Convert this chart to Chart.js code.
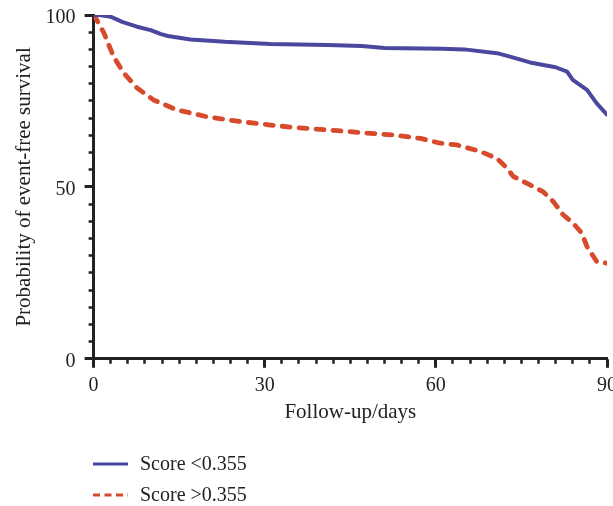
<!DOCTYPE html>
<html><head><meta charset="utf-8">
<script src="https://cdn.jsdelivr.net/npm/chart.js@4/dist/chart.umd.min.js"></script>
<style>
html,body{margin:0;padding:0;overflow:hidden;background:#fff;width:613px;height:506px;}
#wrap{position:absolute;left:0;top:0;width:630px;height:506px;}
#legend{position:absolute;left:93px;top:448px;font-family:"Liberation Serif",serif;font-size:20px;color:#222;}
.item{display:flex;align-items:center;height:31px;white-space:nowrap;}
.item svg{margin-right:12px;display:block;}
</style></head><body>
<div id="wrap"><canvas id="c" width="630" height="506"></canvas></div>
<div id="legend"></div>
<script>
// ---- data ----
const seriesNames = ['Score <0.355', 'Score >0.355'];
const daysLow = [0, 1, 3, 5, 7.6, 10, 11.7, 13, 17, 23, 31, 41, 47, 51, 61, 65, 70.7, 73, 76.5, 81, 83, 84, 86.5, 88.2, 90];
const survLow = [100, 100, 99.5, 98, 96.6, 95.6, 94.5, 93.9, 92.9, 92.2, 91.6, 91.3, 91, 90.4, 90.2, 90, 88.9, 87.9, 86.2, 84.8, 83.5, 81.1, 78.2, 74.3, 71];
const daysHigh = [0, 0.4, 1.8, 3.5, 5.3, 7.6, 10.5, 14.6, 19.9, 25.7, 31, 35, 40.9, 46.8, 52.5, 57.3, 60.8, 63.7, 67.8, 70.7, 72.5, 73.6, 76, 78.8, 80.6, 82.3, 84.1, 85.6, 86.5, 88.2, 90];
const survHigh = [100, 99, 94.8, 87.9, 83.1, 78.8, 75.3, 72.4, 70.4, 69, 68, 67.3, 66.6, 65.8, 65.1, 64.1, 62.7, 62.2, 60.3, 58.3, 55.4, 53, 51, 48.6, 45.7, 41.9, 39.4, 36.5, 32.6, 28.3, 27.8];
const xTickLabels = [0, 30, 60, 90];
const yTickLabels = [0, 50, 100];
const xMinorStep = 3;
const yMinorStep = 5;
const xTitle = 'Follow-up/days';
const yTitle = 'Probability of event-free survival';

const toPts = (xs, ys) => xs.map((x, i) => ({x: x, y: ys[i]}));
const ink = '#222';
const fam = '"Liberation Serif", serif';
const xFont = {family: fam, size: 20};
const yFont = {family: fam, size: 20, lineHeight: 0.6};
const titleFont = {family: fam, size: 21};

const colors = ['#4a479e', '#d84a2c'];
const dashes = [[], [8, 9]];

const chart = new Chart(document.getElementById('c'), {
  type: 'line',
  data: {
    datasets: [
      {label: seriesNames[0], data: toPts(daysLow, survLow), borderColor: colors[0], borderWidth: 4,
       pointRadius: 0, tension: 0, borderJoinStyle: 'round', borderCapStyle: 'round', fill: false},
      {label: seriesNames[1], data: toPts(daysHigh, survHigh), borderColor: colors[1], borderWidth: 4.8,
       borderDash: dashes[1], pointRadius: 0, tension: 0, borderJoinStyle: 'round', borderCapStyle: 'round', fill: false}
    ]
  },
  options: {
    responsive: false,
    animation: false,
    events: [],
    layout: {padding: {left: 8, top: 15, right: 23, bottom: 77}},
    plugins: {legend: {display: false}, tooltip: {enabled: false}},
    scales: {
      x: {
        type: 'linear', position: 'bottom', weight: 1, min: 0, max: 90,
        afterBuildTicks: s => { s.ticks = xTickLabels.map(v => ({value: v})); },
        border: {display: true, color: ink, width: 3},
        grid: {drawOnChartArea: false, drawTicks: true, tickLength: 9, tickWidth: 3, tickColor: ink},
        ticks: {color: ink, font: xFont, padding: 6, maxRotation: 0, autoSkip: false},
        title: {display: true, text: xTitle, color: ink, font: titleFont, padding: {top: -4, bottom: 4}}
      },
      xMinor: {
        type: 'linear', position: 'bottom', weight: 0, min: 0, max: 90,
        afterBuildTicks: s => { const t = []; for (let v = 0; v <= 90; v += xMinorStep) t.push({value: v}); s.ticks = t; },
        afterFit: s => { s.height = 0; },
        border: {display: false},
        grid: {drawOnChartArea: false, drawTicks: true, tickLength: 5, tickWidth: 2.5, tickColor: ink},
        ticks: {display: false, autoSkip: false}
      },
      y: {
        type: 'linear', position: 'left', weight: 1, min: 0, max: 100,
        afterBuildTicks: s => { s.ticks = yTickLabels.map(v => ({value: v})); },
        border: {display: true, color: ink, width: 3},
        grid: {drawOnChartArea: false, drawTicks: true, tickLength: 9, tickWidth: 3, tickColor: ink},
        ticks: {color: ink, font: yFont, padding: 9, labelOffset: 3, autoSkip: false},
        title: {display: true, text: yTitle, color: ink, font: titleFont, padding: {top: 3.4, bottom: 0}}
      },
      yMinor: {
        type: 'linear', position: 'left', weight: 0, min: 0, max: 100,
        afterBuildTicks: s => { const t = []; for (let v = 0; v <= 100; v += yMinorStep) t.push({value: v}); s.ticks = t; },
        afterFit: s => { s.width = 0; },
        border: {display: false},
        grid: {drawOnChartArea: false, drawTicks: true, tickLength: 5, tickWidth: 2.5, tickColor: ink},
        ticks: {display: false, autoSkip: false}
      }
    }
  }
});

// HTML legend built from the chart's datasets
const leg = document.getElementById('legend');
chart.data.datasets.forEach((ds, i) => {
  const row = document.createElement('div');
  row.className = 'item';
  const dash = i === 1 ? 'stroke-dasharray="7 4.5"' : '';
  row.innerHTML = '<svg width="35" height="6"><line x1="0" y1="3" x2="35" y2="3" stroke="' + ds.borderColor +
    '" stroke-width="3" ' + dash + '/></svg><span>' + ds.label.replace('<', '&lt;').replace('>', '&gt;') + '</span>';
  leg.appendChild(row);
});
</script>
</body></html>
